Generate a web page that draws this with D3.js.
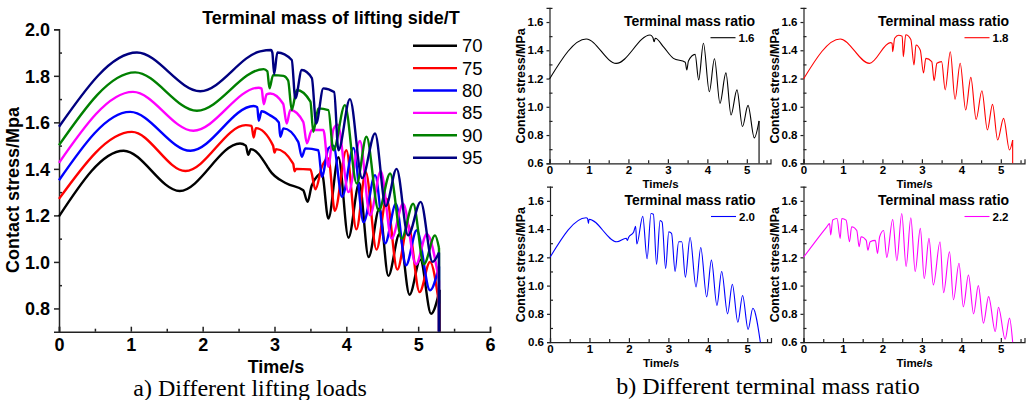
<!DOCTYPE html>
<html>
<head>
<meta charset="utf-8">
<script src="https://cdn.jsdelivr.net/npm/d3@7"></script>
<style>
body { margin: 0; background: #fff; }
svg { display: block; }
text { font-family: "Liberation Sans", Arial, sans-serif; }
</style>
</head>
<body>
<svg id="chart" width="1032" height="400"></svg>
<script>
// ---- panel a: contact stress for different lifting loads [time s, stress MPa]
var massLabels = ["70", "75", "80", "85", "90", "95"];

var mass70 = [[0,1.196],[0.9,1.478],[1.68,1.305],[2.52,1.509],[2.6,1.50],[2.635,1.46],[2.67,1.485],
  [2.9,1.41],[2.93,1.395],[3.17,1.337],[3.4,1.308],[3.46,1.258],[3.52,1.33],[3.66,1.38],[3.75,1.186],
  [3.89,1.45],[4.03,1.104],[4.18,1.34],[4.31,1.021],[4.46,1.23],[4.585,0.94],[4.74,1.12],[4.88,0.859],
  [5.03,1.01],[5.18,0.777],[5.3,0.88]];
var mass75 = [[0,1.271],[1.015,1.559],[1.76,1.391],[2.6,1.588],[2.68,1.585],[2.71,1.535],[2.74,1.575],
  [2.98,1.50],[3.0,1.47],[3.02,1.485],[3.26,1.423],[3.28,1.39],[3.3,1.40],[3.5,1.397],[3.57,1.312],
  [3.66,1.41],[3.75,1.445],[3.84,1.22],[4.0,1.48],[4.14,1.14],[4.27,1.387],[4.42,1.053],[4.56,1.272],
  [4.71,0.967],[4.86,1.16],[5.02,0.87],[5.165,1.0],[5.29,0.82]];
var mass80 = [[0,1.351],[0.99,1.645],[1.83,1.478],[2.71,1.67],[2.76,1.665],[2.78,1.607],[2.82,1.648],
  [2.94,1.63],[3.06,1.60],[3.08,1.538],[3.125,1.574],[3.33,1.516],[3.38,1.452],[3.43,1.488],[3.61,1.48],
  [3.66,1.366],[3.75,1.488],[3.82,1.50],[3.94,1.28],[4.1,1.49],[4.24,1.17],[4.4,1.373],[4.54,1.08],
  [4.69,1.25],[4.83,0.985],[4.98,1.136],[5.165,0.878],[5.29,0.98]];
var mass85 = [[0,1.426],[1.03,1.731],[1.87,1.564],[2.78,1.749],[2.82,1.745],[2.85,1.678],[2.89,1.72],
  [2.94,1.724],[3.12,1.68],[3.17,1.595],[3.22,1.653],[3.40,1.602],[3.45,1.51],[3.52,1.567],[3.68,1.567],
  [3.75,1.409],[3.82,1.57],[3.88,1.59],[4.03,1.30],[4.19,1.52],[4.33,1.20],[4.48,1.39],[4.63,1.10],
  [4.79,1.25],[4.97,0.99],[5.12,1.12],[5.29,0.92]];
var mass90 = [[0,1.502],[1.06,1.815],[1.92,1.65],[2.85,1.829],[2.9,1.82],[2.93,1.746],[2.98,1.803],
  [3.125,1.80],[3.19,1.78],[3.24,1.653],[3.31,1.739],[3.5,1.689],[3.54,1.559],[3.61,1.66],[3.75,1.653],
  [3.82,1.48],[3.98,1.674],[4.145,1.337],[4.28,1.538],[4.45,1.22],[4.61,1.38],[4.77,1.10],[4.93,1.25],
  [5.08,0.99],[5.235,1.114],[5.29,1.06]];
var mass95 = [[0,1.581],[1.085,1.90],[1.966,1.734],[2.8,1.905],[2.95,1.911],[2.97,1.90],[2.995,1.808],
  [3.04,1.90],[3.24,1.868],[3.29,1.703],[3.38,1.825],[3.52,1.79],[3.58,1.595],[3.68,1.746],[3.83,1.73],
  [3.89,1.48],[4.05,1.70],[4.22,1.36],[4.40,1.552],[4.55,1.24],[4.70,1.40],[4.86,1.114],[5.035,1.258],
  [5.2,1.0],[5.29,1.04]];

var timeTicksA = [0, 1, 2, 3, 4, 5, 6];
var stressTicksA = [0.8, 1.0, 1.2, 1.4, 1.6, 1.8, 2.0];

// ---- panel b: contact stress for different terminal mass ratios
var ratioLabels = ["1.6", "1.8", "2.0", "2.2"];

var ratio16 = [[0,1.197],[0.93,1.48],[1.69,1.307],[2.55,1.508],[2.62,1.49],[2.65,1.46],[2.68,1.485],
  [2.9,1.42],[3.14,1.343],[3.44,1.315],[3.48,1.26],[3.52,1.324],[3.69,1.371],[3.78,1.19],[3.90,1.45],
  [4.05,1.107],[4.18,1.34],[4.32,1.025],[4.47,1.24],[4.60,0.942],[4.75,1.12],[4.89,0.86],[5.03,1.01],
  [5.19,0.78],[5.31,0.90]];
var ratio18 = [[0,1.197],[0.93,1.48],[1.67,1.307],[2.2,1.454],[2.245,1.45],[2.26,1.39],[2.31,1.485],
  [2.41,1.506],[2.5,1.50],[2.53,1.355],[2.59,1.51],[2.72,1.477],[2.80,1.296],[2.85,1.437],[2.96,1.40],
  [3.04,1.24],[3.10,1.343],[3.25,1.32],[3.31,1.185],[3.38,1.308],[3.5,1.32],[3.59,1.12],[3.72,1.39],
  [3.84,1.053],[3.97,1.308],[4.11,0.977],[4.24,1.208],[4.375,0.911],[4.52,1.114],[4.66,0.836],
  [4.79,1.017],[4.92,0.765],[5.07,0.918],[5.22,0.694],[5.30,0.765]];
var ratio20 = [[0,1.2],[0.915,1.48],[0.95,1.475],[0.975,1.44],[0.99,1.47],[1.695,1.31],[1.93,1.335],
  [1.96,1.32],[1.99,1.34],[2.12,1.38],[2.17,1.42],[2.20,1.294],[2.35,1.49],[2.46,1.19],[2.56,1.51],
  [2.62,1.505],[2.70,1.15],[2.79,1.46],[2.84,1.45],[2.93,1.12],[3.01,1.38],[3.08,1.37],[3.17,1.10],
  [3.26,1.31],[3.34,1.31],[3.43,1.06],[3.55,1.34],[3.70,0.99],[3.82,1.27],[3.97,0.92],[4.09,1.18],
  [4.23,0.86],[4.35,1.10],[4.50,0.80],[4.62,1.01],[4.76,0.74],[4.88,0.93],[5.02,0.69],[5.14,0.84],
  [5.33,0.60]];
var ratio22 = [[0,1.2],[0.59,1.416],[0.66,1.44],[0.69,1.358],[0.74,1.464],[0.85,1.475],[0.93,1.334],
  [0.97,1.475],[1.08,1.463],[1.165,1.31],[1.22,1.416],[1.35,1.39],[1.41,1.275],[1.46,1.346],[1.59,1.32],
  [1.63,1.25],[1.69,1.31],[1.82,1.32],[1.875,1.228],[1.93,1.346],[2.03,1.39],[2.11,1.2],[2.26,1.468],
  [2.365,1.176],[2.49,1.51],[2.60,1.134],[2.72,1.48],[2.83,1.10],[2.96,1.405],[3.06,1.05],[3.18,1.334],
  [3.29,1.005],[3.46,1.31],[3.55,0.95],[3.70,1.24],[3.80,0.90],[3.94,1.158],[4.05,0.85],[4.18,1.075],
  [4.31,0.80],[4.43,1.0],[4.56,0.734],[4.69,0.922],[4.86,0.675],[4.94,0.847],[5.11,0.62],[5.22,0.77],
  [5.30,0.6]];

var timeTicksB = [0, 1, 2, 3, 4, 5];
var stressTicksB = [0.6, 0.8, 1.0, 1.2, 1.4, 1.6];

// ---------------------------------------------------------------
var svg = d3.select("#chart");
var fmt1 = d3.format(".1f");

function styleAxis(g, size, width) {
    g.selectAll("path.domain").attr("stroke", "#222").attr("stroke-width", width);
    g.selectAll(".tick line").attr("stroke", "#222").attr("stroke-width", width);
    g.selectAll("text").attr("fill", "#000").style("font-size", size + "px").style("font-weight", "bold");
}

// panel a
var xa = d3.scaleLinear().domain([0, 6]).range([59, 490]);
var ya = d3.scaleLinear().domain([0.7, 2.0]).range([331.7, 29.3]);
var massSeries = [mass70, mass75, mass80, mass85, mass90, mass95];
var massColors = ["#000000", "#ff0000", "#0000ff", "#ff00ff", "#008000", "#000080"];

var gA = svg.append("g");

var minorXA = gA.append("g").attr("transform", "translate(0," + ya(0.7) + ")")
    .call(d3.axisBottom(xa).tickValues(d3.range(0.5, 6, 1)).tickSize(-3).tickFormat(""));
minorXA.select("path.domain").remove();
var minorYA = gA.append("g").attr("transform", "translate(" + xa(0) + ",0)")
    .call(d3.axisLeft(ya).tickValues(d3.range(0.9, 2.0, 0.2)).tickSize(-3).tickFormat(""));
minorYA.select("path.domain").remove();
styleAxis(minorXA, 18, 1.5);
styleAxis(minorYA, 18, 1.5);

var axXA = gA.append("g").attr("transform", "translate(0," + ya(0.7) + ")")
    .call(d3.axisBottom(xa).tickValues(timeTicksA).tickSize(-5).tickPadding(7).tickFormat(d3.format("d")));
var axYA = gA.append("g").attr("transform", "translate(" + xa(0) + ",0)")
    .call(d3.axisLeft(ya).tickValues(stressTicksA).tickSize(5).tickPadding(4).tickFormat(fmt1));
styleAxis(axXA, 18, 1.5);
styleAxis(axYA, 18, 1.5);
axYA.selectAll("text").attr("dy", "0.36em");

var lineA = d3.line().x(function (d) { return xa(d[0]); }).y(function (d) { return ya(d[1]); })
    .curve(d3.curveMonotoneX);
var dropA = d3.line().x(function (d) { return xa(d[0]); }).y(function (d) { return ya(d[1]); });

massSeries.forEach(function (s, i) {
    var last = s[s.length - 1];
    gA.append("path").attr("d", lineA(s)).attr("fill", "none")
        .attr("stroke", massColors[i]).attr("stroke-width", 2.4).attr("stroke-linejoin", "round");
    gA.append("path").attr("d", dropA([last, [last[0], 0.7]])).attr("fill", "none")
        .attr("stroke", massColors[i]).attr("stroke-width", 2.4);
});

gA.append("text").attr("x", 331).attr("y", 24).attr("text-anchor", "middle")
    .style("font-size", "18px").style("font-weight", "bold").text("Terminal mass of lifting side/T");
massLabels.forEach(function (lab, i) {
    var yy = 45.7 + i * 22.4;
    gA.append("line").attr("x1", 413).attr("x2", 457).attr("y1", yy).attr("y2", yy)
        .attr("stroke", massColors[i]).attr("stroke-width", 2.4);
    gA.append("text").attr("x", 462).attr("y", yy + 6.5).style("font-size", "18.5px").text(lab);
});

gA.append("text").attr("x", 276).attr("y", 373).attr("text-anchor", "middle")
    .style("font-size", "18px").style("font-weight", "bold").text("Time/s");
gA.append("text").attr("transform", "translate(19,190) rotate(-90)").attr("text-anchor", "middle")
    .style("font-size", "18px").style("font-weight", "bold").text("Contact stress/Mpa");
gA.append("text").attr("x", 250).attr("y", 396).attr("text-anchor", "middle")
    .style("font-family", "'Liberation Serif', 'Times New Roman', serif").style("font-size", "24px")
    .text("a) Different lifting loads");

// panel b
var ratioSeries = [ratio16, ratio18, ratio20, ratio22];
var ratioColors = ["#000000", "#ff0000", "#0000ff", "#ff00ff"];
var subPos = [[549.5, 7.9], [803.5, 7.9], [550, 186.7], [803.5, 186.7]];

function drawSub(k) {
    var left = subPos[k][0], top = subPos[k][1];
    var data = ratioSeries[k], color = ratioColors[k];
    var x = d3.scaleLinear().domain([0, 5.6]).range([left, left + 221]);
    var y = d3.scaleLinear().domain([0.6, 1.7]).range([top + 155.4, top]);
    var g = svg.append("g");

    var mx = g.append("g").attr("transform", "translate(0," + y(0.6) + ")")
        .call(d3.axisBottom(x).tickValues(d3.range(0.5, 5.6, 1)).tickSize(-3).tickFormat(""));
    mx.select("path.domain").remove();
    var my = g.append("g").attr("transform", "translate(" + left + ",0)")
        .call(d3.axisLeft(y).tickValues(d3.range(0.7, 1.75, 0.2)).tickSize(-3).tickFormat(""));
    my.select("path.domain").remove();
    styleAxis(mx, 11, 1.2);
    styleAxis(my, 11, 1.2);

    var ax = g.append("g").attr("transform", "translate(0," + y(0.6) + ")")
        .call(d3.axisBottom(x).tickValues(timeTicksB).tickSize(-4).tickPadding(3).tickFormat(d3.format("d")));
    var ay = g.append("g").attr("transform", "translate(" + left + ",0)")
        .call(d3.axisLeft(y).tickValues(stressTicksB).tickSize(3).tickPadding(3).tickFormat(fmt1));
    styleAxis(ax, 11.5, 1.2);
    styleAxis(ay, 11.5, 1.2);

    var ln = d3.line().x(function (d) { return x(d[0]); }).y(function (d) { return y(d[1]); })
        .curve(d3.curveMonotoneX);
    var last = data[data.length - 1];
    g.append("path").attr("d", ln(data)).attr("fill", "none").attr("stroke", color).attr("stroke-width", 1.1);
    if (last[1] > 0.6) {
        g.append("path").attr("d", d3.line().x(function (d) { return x(d[0]); }).y(function (d) { return y(d[1]); })([last, [last[0], 0.6]]))
            .attr("fill", "none").attr("stroke", color).attr("stroke-width", 1.1);
    }

    g.append("text").attr("x", left + 140).attr("y", top + 18).attr("text-anchor", "middle")
        .style("font-size", "14px").style("font-weight", "bold").text("Terminal mass ratio");
    g.append("line").attr("x1", left + 161).attr("x2", left + 186).attr("y1", top + 29.8).attr("y2", top + 29.8)
        .attr("stroke", color).attr("stroke-width", 1.1);
    g.append("text").attr("x", left + 189).attr("y", top + 34).style("font-size", "11.5px")
        .style("font-weight", "bold").text(ratioLabels[k]);

    g.append("text").attr("x", left + 111).attr("y", y(0.6) + 25).attr("text-anchor", "middle")
        .style("font-size", "11.5px").style("font-weight", "bold").text("Time/s");
    g.append("text").attr("transform", "translate(" + (left - 25) + "," + (top + 78) + ") rotate(-90)")
        .attr("text-anchor", "middle").style("font-size", "12.4px").style("font-weight", "bold")
        .text("Contact stress/MPa");
}

for (var k = 0; k < 4; k++) drawSub(k);

svg.append("text").attr("x", 768).attr("y", 394).attr("text-anchor", "middle")
    .style("font-family", "'Liberation Serif', 'Times New Roman', serif").style("font-size", "24px")
    .text("b) Different terminal mass ratio");
</script>
</body>
</html>
